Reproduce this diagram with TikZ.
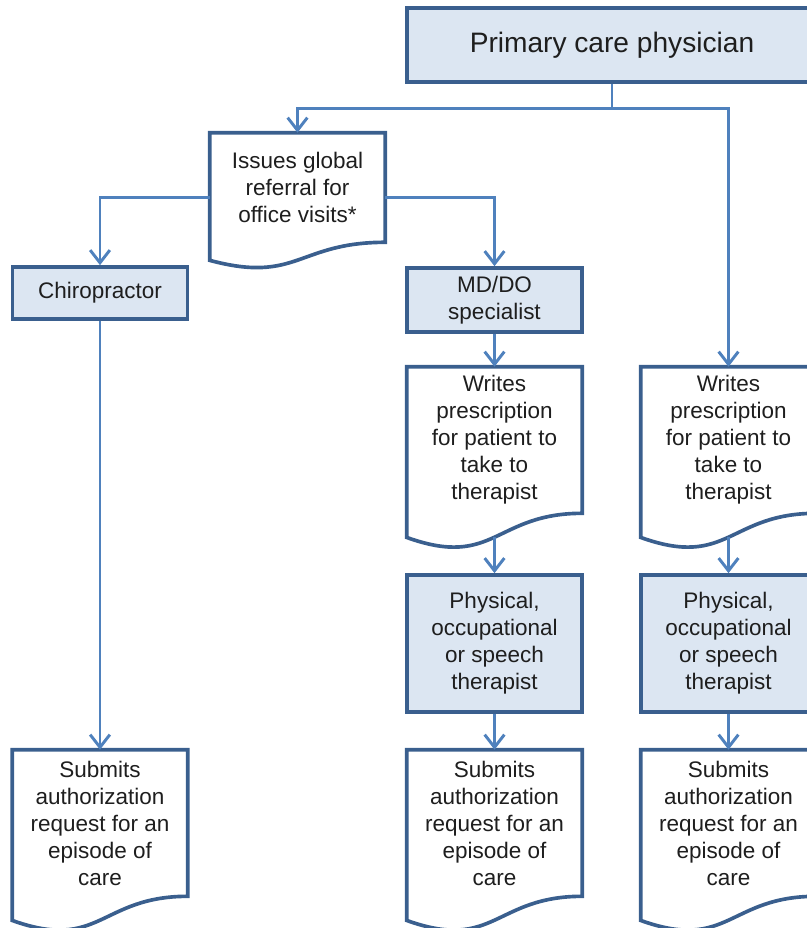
\documentclass[tikz,border=0pt]{standalone}
\usepackage{fontspec}
\setmainfont{Liberation Sans}
\usetikzlibrary{arrows.meta,calc}

\definecolor{boxfill}{HTML}{DCE6F2}
\definecolor{boxline}{HTML}{3A5F8E}
\definecolor{linkline}{HTML}{4F81BD}
\definecolor{boxtext}{HTML}{1E1E1E}

% wavy document outline around a named node, plus its foot point
\newcommand{\docshape}[1]{%
  \draw[docline] (#1.north west) -- (#1.north east) -- (#1.south east)
    .. controls (#1.south) and ($(#1.north)!1.38!(#1.south)$)
    .. ($(#1.north west)!1.1646!(#1.south west)$) -- cycle;
  \coordinate (#1 foot) at ($(#1.north)!1.163!(#1.south)$);}

\begin{document}
\begin{tikzpicture}[x=0.025cm,y=-0.025cm,
  careBox/.style={draw=boxline,fill=boxfill,line width=2.6pt,minimum width=4.375cm,
    align=center,inner sep=0pt,text=boxtext,font=\fontsize{16}{19.2}\selectfont},
  docBox/.style={minimum width=4.375cm,minimum height=3.65cm,align=center,inner sep=0pt,
    text=boxtext,font=\fontsize{16}{19.2}\selectfont},
  docline/.style={draw=boxline,line width=2.6pt},
  link/.style={draw=linkline,line width=2.1pt,-{Straight Barb[length=9pt,width=14pt]}}]
\useasboundingbox (0,0) rectangle (807,928);
\clip (0,0) rectangle (807,928);

% Top
\node[careBox,minimum width=10.25cm,minimum height=1.85cm,font=\fontsize{20}{24}\selectfont]
  (pcp) at (612,45) {Primary care physician};
\node[docBox,minimum height=2.725cm] (referral) at (297.5,187.5)
  {Issues global\\referral for\\office visits*};

% Left column
\node[careBox,minimum height=1.3cm] (chiro) at (100,293) {Chiropractor};
\node[docBox] (submitA) at (100,823)
  {Submits\\authorization\\request for an\\episode of\\care};

% Middle column
\node[careBox,minimum height=1.6cm] (mddo) at (494.5,300) {MD/DO\\specialist};
\node[docBox] (rxB) at (494.5,440)
  {Writes\\prescription\\for patient to\\take to\\therapist};
\node[careBox,minimum height=3.425cm] (therB) at (494.5,643.5)
  {Physical,\\occupational\\or speech\\therapist};
\node[docBox] (submitB) at (494.5,823)
  {Submits\\authorization\\request for an\\episode of\\care};

% Right column
\node[docBox] (rxC) at (728.5,440)
  {Writes\\prescription\\for patient to\\take to\\therapist};
\node[careBox,minimum height=3.425cm] (therC) at (728.5,643.5)
  {Physical,\\occupational\\or speech\\therapist};
\node[docBox] (submitC) at (728.5,823)
  {Submits\\authorization\\request for an\\episode of\\care};

\docshape{referral}
\docshape{submitA}
\docshape{rxB}
\docshape{submitB}
\docshape{rxC}
\docshape{submitC}

% Links
\coordinate (split) at ($(pcp.south)+(0,25)$);
\draw[link] (pcp.south) -- (split) -| (referral.north);
\draw[link] (split) -| (rxC.north);
\draw[link] ([yshift=-0.26cm]referral.west) -| (chiro.north);
\draw[link] ([yshift=-0.26cm]referral.east) -| (mddo.north);
\draw[link] (chiro.south) -- (submitA.north);
\draw[link] (mddo.south) -- (rxB.north);
\draw[link] (rxB foot) -- (therB.north);
\draw[link] (therB.south) -- (submitB.north);
\draw[link] (rxC foot) -- (therC.north);
\draw[link] (therC.south) -- (submitC.north);
\end{tikzpicture}
\end{document}
